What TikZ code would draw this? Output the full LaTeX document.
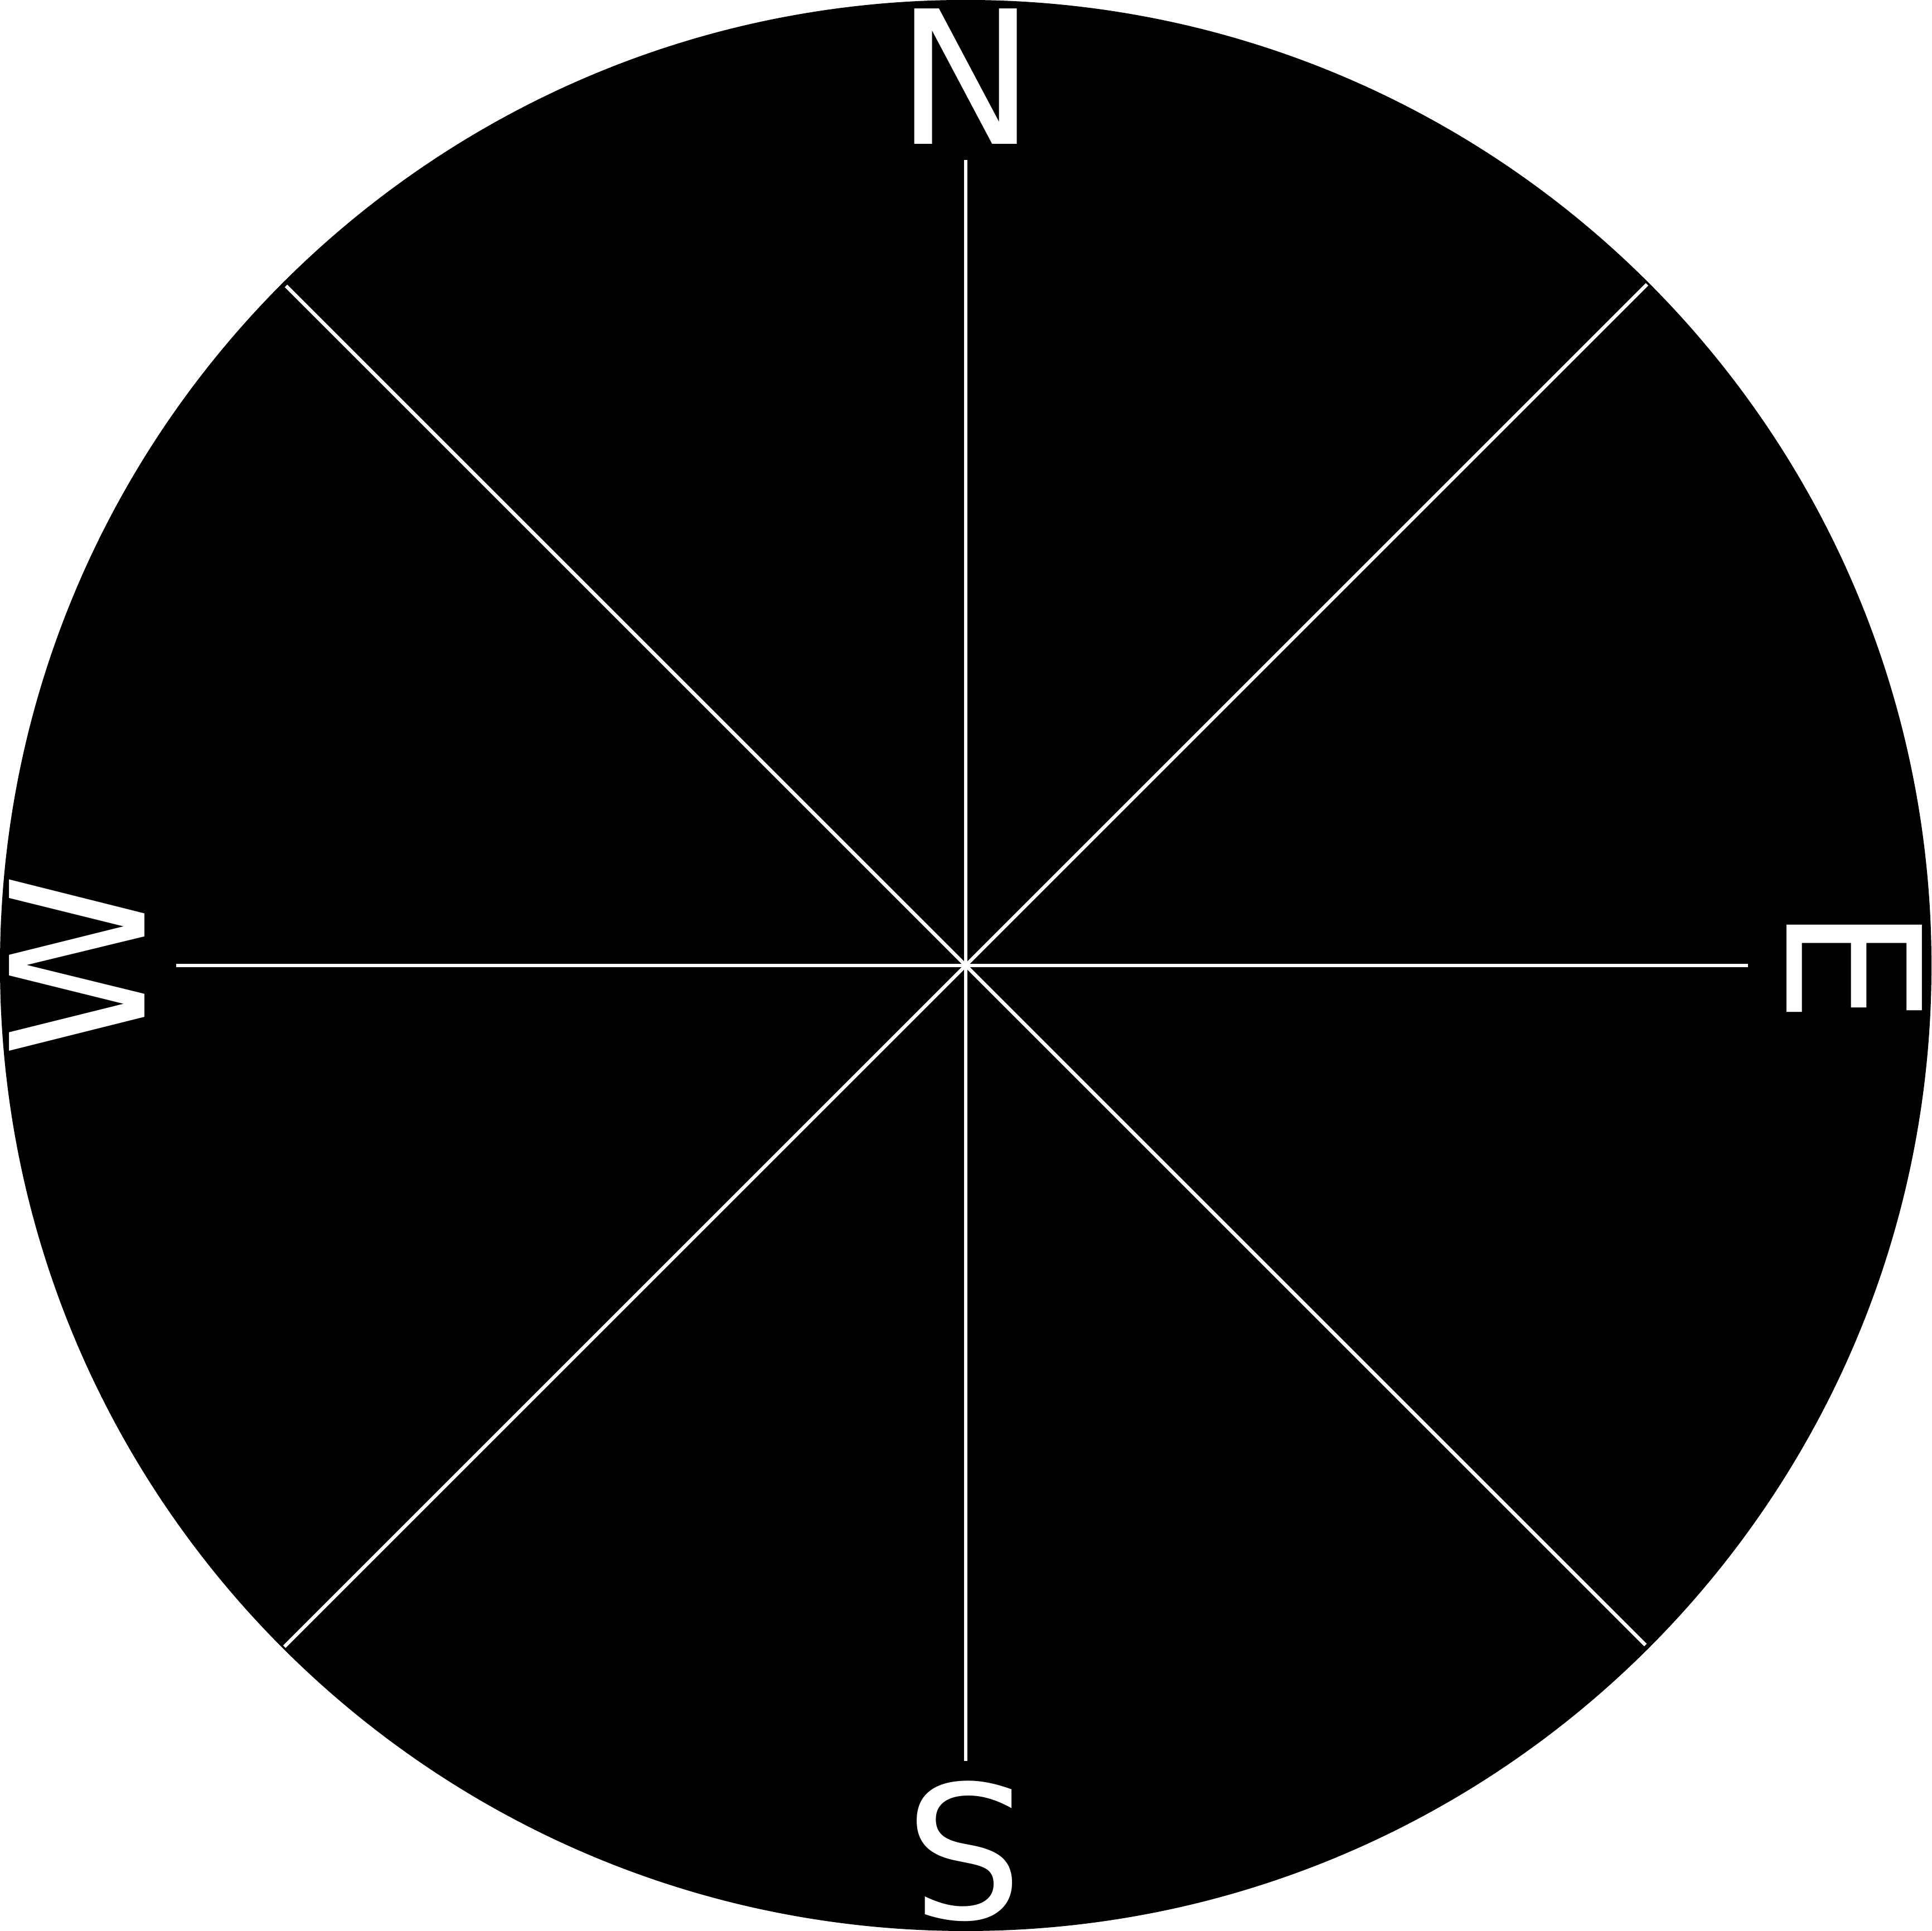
\documentclass[tikz,border=0pt]{standalone}
\usepackage{fontspec}
\setmainfont{DejaVu Sans}
\usepackage{tikz}

\tikzset{
  rose/.style={draw=white, line width=0.18pt},
  point/.style={text=white, inner sep=0pt, font=\fontsize{9.48}{11}\selectfont},
}

\begin{document}
\begin{tikzpicture}
  \useasboundingbox (-17.32mm,-17.32mm) rectangle (17.32mm,17.32mm);
  \fill[black] (0,0) circle (17.32mm);
  % cardinal points, baseline towards the centre
  \node[point] (north) at (90:15.945mm) {N};
  \node[point, rotate=-90] (east) at (0:15.94mm) {E};
  \node[point, rotate=180] (south) at (270:15.89mm) {S};
  \node[point, rotate=90] (west) at (180:15.94mm) {W};
  % ends of the axes
  \coordinate (n1) at (0,14.45mm);
  \coordinate (s1) at (0,-14.27mm);
  \coordinate (w1) at (-14.16mm,0);
  \coordinate (e1) at (14.03mm,0);
  \coordinate (ne) at (45:17.28mm);
  \coordinate (nw) at (135:17.24mm);
  \coordinate (sw) at (225:17.28mm);
  \coordinate (se) at (315:17.24mm);
  \draw[rose] (n1) -- (s1);
  \draw[rose] (w1) -- (e1);
  \draw[rose] (ne) -- (sw);
  \draw[rose] (nw) -- (se);
\end{tikzpicture}
\end{document}
